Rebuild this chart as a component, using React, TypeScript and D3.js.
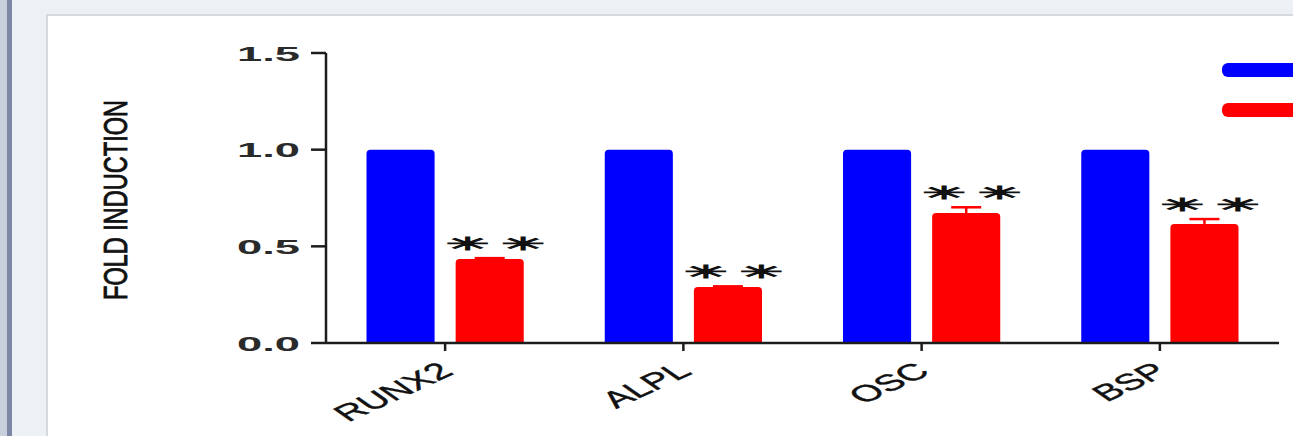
import React from "react";
import * as d3 from "d3";

// Gene expression, fold induction relative to control
const genes = ["RUNX2", "ALPL", "OSC", "BSP"];
const groups = ["control", "treated"];
const controlValues = [1.0, 1.0, 1.0, 1.0];
const treatedValues = [0.434, 0.29, 0.672, 0.616];
const treatedErrors = [0.005, 0.003, 0.03, 0.025];
const significance = ["✳✳", "✳✳", "✳✳", "✳✳"];
const yTicks = [0, 0.5, 1.0, 1.5];
const yTitle = "FOLD INDUCTION";

const W = 1293;
const H = 436;
const BLUE = "#0000ff";
const RED = "#ff0000";
const INK = "#1c1c1c";
const SX = 1.76; // horizontal text stretch

function topRoundedBar(x: number, y: number, w: number, h: number, r: number) {
  const p = d3.path();
  p.moveTo(x, y + h);
  p.lineTo(x, y + r);
  p.quadraticCurveTo(x, y, x + r, y);
  p.lineTo(x + w - r, y);
  p.quadraticCurveTo(x + w, y, x + w, y + r);
  p.lineTo(x + w, y + h);
  p.closePath();
  return p.toString();
}

export default function App() {
  const x0 = 326;
  const x1 = 1279;
  const yBase = 343;
  const yTop = 53;

  const x = d3.scaleBand<string>().domain(genes).range([x0, x1]).paddingInner(0.34).paddingOuter(0.17);
  const xs = d3.scaleBand<string>().domain(groups).range([0, x.bandwidth()]).paddingInner(0.236);
  const y = d3.scaleLinear().domain([0, 1.5]).range([yBase, yTop]);
  const fmt = d3.format(".1f");
  const starSize = 18;

  return (
    <svg
      width={W}
      height={H}
      style={{ position: "absolute", left: 0, top: 0, display: "block" }}
      fontFamily="Liberation Sans, Arial, sans-serif"
    >
      {/* frame */}
      <rect x={0} y={0} width={W} height={H} fill="#edf0f5" />
      <rect x={0} y={0} width={7} height={H} fill="#c9d0dd" />
      <rect x={7} y={0} width={5} height={H} fill="#7c87a7" />
      <rect x={46} y={14} width={W - 46} height={H - 14} fill="#d6d9de" />
      <rect x={48} y={16} width={W - 48} height={H - 16} fill="#ffffff" />

      {/* y axis */}
      <line x1={x0} x2={x0} y1={y(1.5)} y2={yBase} stroke={INK} strokeWidth={2.5} />
      {yTicks.map((t) => (
        <g key={t}>
          <line x1={x0 - 15} x2={x0} y1={y(t)} y2={y(t)} stroke={INK} strokeWidth={2.5} />
          <text
            x={300}
            y={y(t)}
            dy="0.36em"
            textAnchor="end"
            fontSize={21}
            fontWeight="bold"
            fill="#2a2a2a"
            textLength={63}
            lengthAdjust="spacingAndGlyphs"
          >
            {fmt(t)}
          </text>
        </g>
      ))}
      <text
        transform={`translate(115,200) scale(${SX},1) rotate(-90)`}
        textAnchor="middle"
        dy="0.36em"
        fontSize={19}
        fill="#111"
        stroke="#111"
        strokeWidth={0.5}
        textLength={200}
        lengthAdjust="spacingAndGlyphs"
      >
        {yTitle}
      </text>

      {/* bars */}
      {genes.map((g, i) => {
        const bx = x(g)!;
        const cx = bx + x.bandwidth() / 2;
        const bw = xs.bandwidth();
        const cX = bx + xs("control")!;
        const tX = bx + xs("treated")!;
        const tMid = tX + bw / 2;
        const errTop = y(treatedValues[i] + treatedErrors[i]);
        const stars = Array.from(significance[i]);
        return (
          <g key={g}>
            <path d={topRoundedBar(cX, y(controlValues[i]), bw, yBase - y(controlValues[i]), 4)} fill={BLUE} />
            <path d={topRoundedBar(tX, y(treatedValues[i]), bw, yBase - y(treatedValues[i]), 4)} fill={RED} />
            <line x1={tMid} x2={tMid} y1={y(treatedValues[i])} y2={errTop} stroke={RED} strokeWidth={2.5} />
            <line x1={tMid - 15} x2={tMid + 15} y1={errTop} y2={errTop} stroke={RED} strokeWidth={2.5} />
            {stars.map((s, k) => (
              <text
                key={k}
                transform={`translate(${tMid - 22 + k * 55.5},${errTop - 15}) scale(2.9,1)`}
                x={0}
                y={0}
                dy="0.36em"
                textAnchor="middle"
                fontFamily="DejaVu Sans"
                fontSize={starSize}
                fill="#111"
                stroke="#111"
                strokeWidth={0.9}
              >
                {s}
              </text>
            ))}
            <line x1={cx} x2={cx} y1={yBase} y2={yBase + 8} stroke={INK} strokeWidth={2.5} />
            <text
              transform={`translate(${cx - 8},${yBase + 18}) scale(${SX},1) rotate(-39)`}
              textAnchor="end"
              dy="0.7em"
              fontSize={23}
              fill="#111"
              stroke="#111"
              strokeWidth={0.4}
            >
              {g}
            </text>
          </g>
        );
      })}

      {/* x axis */}
      <line x1={x0} x2={x1} y1={yBase} y2={yBase} stroke={INK} strokeWidth={2.5} />

      {/* legend */}
      <rect x={1222} y={63} width={90} height={14} rx={6} fill={BLUE} />
      <rect x={1222} y={103} width={90} height={14} rx={6} fill={RED} />
    </svg>
  );
}
